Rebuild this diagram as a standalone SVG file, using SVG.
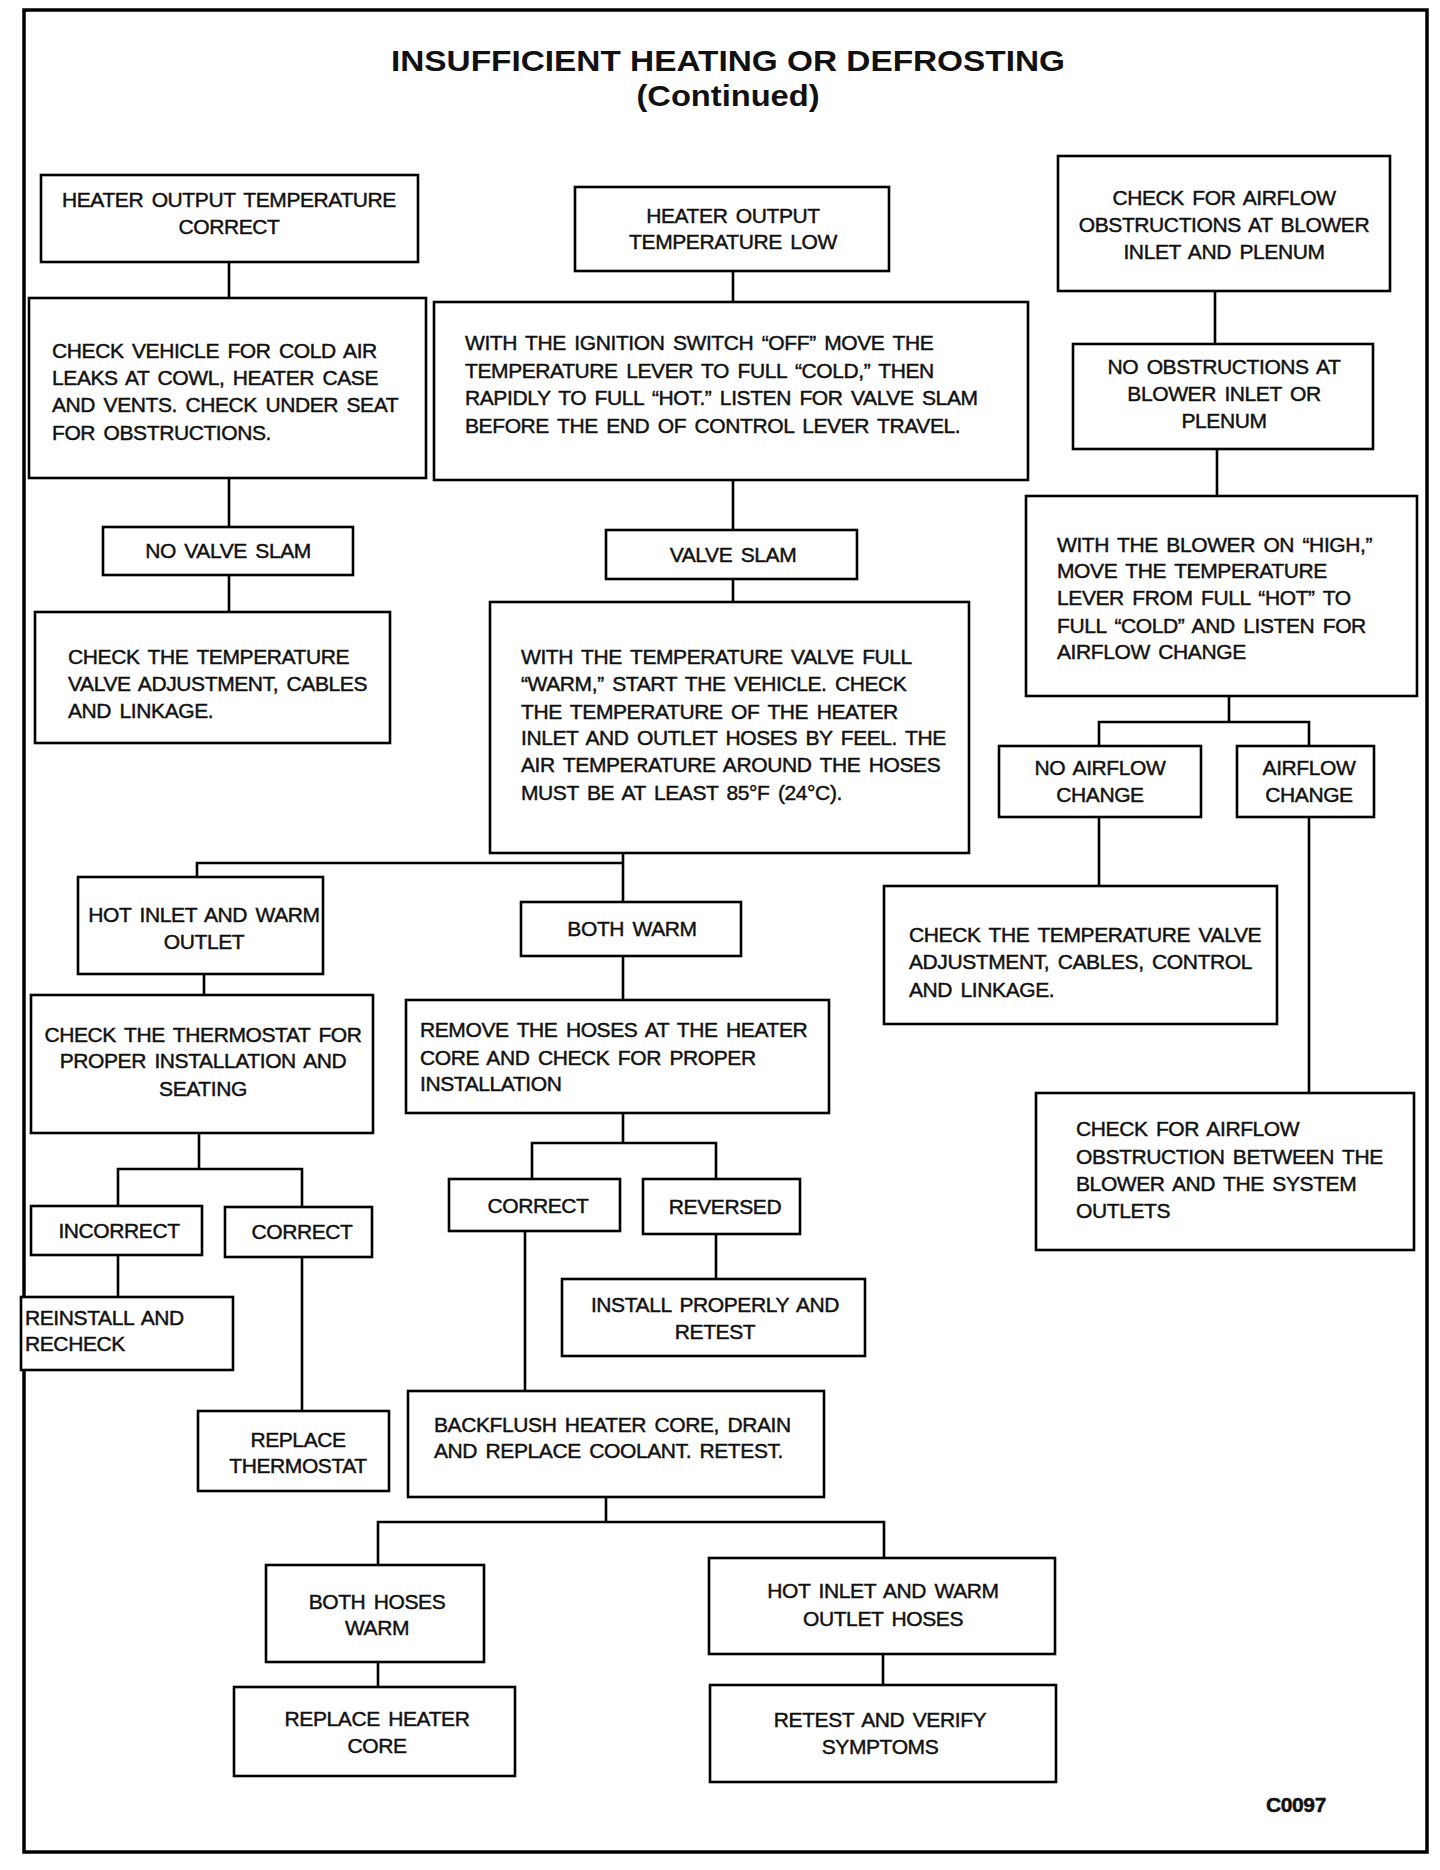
<svg xmlns="http://www.w3.org/2000/svg" width="1440" height="1870" viewBox="0 0 1440 1870">
<style>
.bg{fill:#fff}
.frame{fill:none;stroke:#000;stroke-width:3.5}
.box{fill:#fff;stroke:#000;stroke-width:2.6}
.ln{fill:none;stroke:#000;stroke-width:2.6}
.t{font-family:"Liberation Sans",Arial,sans-serif;font-size:21px;fill:#111;stroke:#111;stroke-width:0.45;letter-spacing:-0.4px;word-spacing:3px}
.c{text-anchor:middle}
.title{font-family:"Liberation Sans",Arial,sans-serif;font-weight:bold;font-size:30px;fill:#111;text-anchor:middle}
</style>
<rect class="bg" x="0" y="0" width="1440" height="1870"/>
<rect class="frame" x="24" y="10" width="1403" height="1842"/>
<g id="title">
<text class="title" x="728" y="71" textLength="674" lengthAdjust="spacingAndGlyphs">INSUFFICIENT HEATING OR DEFROSTING</text>
<text class="title" x="728" y="106" textLength="183" lengthAdjust="spacingAndGlyphs">(Continued)</text>
</g>
<g id="connectors">
<path class="ln" d="M229 262V298M229 478V527M229 575V612"/>
<path class="ln" d="M733 271V302M733 480V530M733 579V602"/>
<path class="ln" d="M1215 291V344M1217 449V496"/>
<path class="ln" d="M1229 696V722M1099 746V722H1309V746"/>
<path class="ln" d="M1099 817V886M1309 817V1093"/>
<path class="ln" d="M623 853V902M197 877V863H623"/>
<path class="ln" d="M204 974V995M623 956V1000"/>
<path class="ln" d="M199 1133V1169M118 1206V1169H302V1207"/>
<path class="ln" d="M118 1255V1297M302 1257V1411"/>
<path class="ln" d="M623 1113V1143M532 1179V1143H716V1179"/>
<path class="ln" d="M716 1234V1279M525 1231V1391"/>
<path class="ln" d="M606 1497V1522M378 1565V1522H884V1558"/>
<path class="ln" d="M378 1662V1687M883 1654V1685"/>
</g>
<g id="n1"><rect class="box" x="41" y="175" width="377" height="87"/>
<text class="t c"><tspan x="229" y="207">HEATER OUTPUT TEMPERATURE</tspan><tspan x="229" y="234">CORRECT</tspan></text></g>
<g id="n2"><rect class="box" x="575" y="187" width="314" height="84"/>
<text class="t c"><tspan x="733" y="223">HEATER OUTPUT</tspan><tspan x="733" y="249">TEMPERATURE LOW</tspan></text></g>
<g id="n3"><rect class="box" x="1058" y="156" width="332" height="135"/>
<text class="t c"><tspan x="1224" y="205">CHECK FOR AIRFLOW</tspan><tspan x="1224" y="232">OBSTRUCTIONS AT BLOWER</tspan><tspan x="1224" y="259">INLET AND PLENUM</tspan></text></g>
<g id="n4"><rect class="box" x="29" y="298" width="397" height="180"/>
<text class="t"><tspan x="52" y="358">CHECK VEHICLE FOR COLD AIR</tspan><tspan x="52" y="385">LEAKS AT COWL, HEATER CASE</tspan><tspan x="52" y="412">AND VENTS. CHECK UNDER SEAT</tspan><tspan x="52" y="440">FOR OBSTRUCTIONS.</tspan></text></g>
<g id="n5"><rect class="box" x="434" y="302" width="594" height="178"/>
<text class="t"><tspan x="465" y="350">WITH THE IGNITION SWITCH “OFF” MOVE THE</tspan><tspan x="465" y="378">TEMPERATURE LEVER TO FULL “COLD,” THEN</tspan><tspan x="465" y="405">RAPIDLY TO FULL “HOT.” LISTEN FOR VALVE SLAM</tspan><tspan x="465" y="433">BEFORE THE END OF CONTROL LEVER TRAVEL.</tspan></text></g>
<g id="n6"><rect class="box" x="1073" y="344" width="300" height="105"/>
<text class="t c"><tspan x="1224" y="374">NO OBSTRUCTIONS AT</tspan><tspan x="1224" y="401">BLOWER INLET OR</tspan><tspan x="1224" y="428">PLENUM</tspan></text></g>
<g id="n7"><rect class="box" x="103" y="527" width="250" height="48"/>
<text class="t c" x="228" y="558">NO VALVE SLAM</text></g>
<g id="n8"><rect class="box" x="606" y="530" width="251" height="49"/>
<text class="t c" x="733" y="562">VALVE SLAM</text></g>
<g id="n9"><rect class="box" x="1026" y="496" width="391" height="200"/>
<text class="t"><tspan x="1057" y="552">WITH THE BLOWER ON “HIGH,”</tspan><tspan x="1057" y="578">MOVE THE TEMPERATURE</tspan><tspan x="1057" y="605">LEVER FROM FULL “HOT” TO</tspan><tspan x="1057" y="633">FULL “COLD” AND LISTEN FOR</tspan><tspan x="1057" y="659">AIRFLOW CHANGE</tspan></text></g>
<g id="n10"><rect class="box" x="35" y="612" width="355" height="131"/>
<text class="t"><tspan x="68" y="664">CHECK THE TEMPERATURE</tspan><tspan x="68" y="691">VALVE ADJUSTMENT, CABLES</tspan><tspan x="68" y="718">AND LINKAGE.</tspan></text></g>
<g id="n11"><rect class="box" x="490" y="602" width="479" height="251"/>
<text class="t"><tspan x="521" y="664">WITH THE TEMPERATURE VALVE FULL</tspan><tspan x="521" y="691">“WARM,” START THE VEHICLE. CHECK</tspan><tspan x="521" y="719">THE TEMPERATURE OF THE HEATER</tspan><tspan x="521" y="745">INLET AND OUTLET HOSES BY FEEL. THE</tspan><tspan x="521" y="772">AIR TEMPERATURE AROUND THE HOSES</tspan><tspan x="521" y="800">MUST BE AT LEAST 85°F (24°C).</tspan></text></g>
<g id="n12"><rect class="box" x="999" y="746" width="202" height="71"/>
<text class="t c"><tspan x="1100" y="775">NO AIRFLOW</tspan><tspan x="1100" y="802">CHANGE</tspan></text></g>
<g id="n13"><rect class="box" x="1237" y="746" width="137" height="71"/>
<text class="t c"><tspan x="1309" y="775">AIRFLOW</tspan><tspan x="1309" y="802">CHANGE</tspan></text></g>
<g id="n14"><rect class="box" x="78" y="877" width="245" height="97"/>
<text class="t c"><tspan x="204" y="922">HOT INLET AND WARM</tspan><tspan x="204" y="949">OUTLET</tspan></text></g>
<g id="n15"><rect class="box" x="521" y="902" width="220" height="54"/>
<text class="t c" x="632" y="936">BOTH WARM</text></g>
<g id="n16"><rect class="box" x="884" y="886" width="393" height="138"/>
<text class="t"><tspan x="909" y="942">CHECK THE TEMPERATURE VALVE</tspan><tspan x="909" y="969">ADJUSTMENT, CABLES, CONTROL</tspan><tspan x="909" y="997">AND LINKAGE.</tspan></text></g>
<g id="n17"><rect class="box" x="31" y="995" width="342" height="138"/>
<text class="t c"><tspan x="203" y="1042">CHECK THE THERMOSTAT FOR</tspan><tspan x="203" y="1068">PROPER INSTALLATION AND</tspan><tspan x="203" y="1096">SEATING</tspan></text></g>
<g id="n18"><rect class="box" x="406" y="1000" width="423" height="113"/>
<text class="t"><tspan x="420" y="1037">REMOVE THE HOSES AT THE HEATER</tspan><tspan x="420" y="1065">CORE AND CHECK FOR PROPER</tspan><tspan x="420" y="1091">INSTALLATION</tspan></text></g>
<g id="n19"><rect class="box" x="1036" y="1093" width="378" height="157"/>
<text class="t"><tspan x="1076" y="1136">CHECK FOR AIRFLOW</tspan><tspan x="1076" y="1164">OBSTRUCTION BETWEEN THE</tspan><tspan x="1076" y="1191">BLOWER AND THE SYSTEM</tspan><tspan x="1076" y="1218">OUTLETS</tspan></text></g>
<g id="n20"><rect class="box" x="31" y="1206" width="171" height="49"/>
<text class="t c" x="119" y="1238">INCORRECT</text></g>
<g id="n21"><rect class="box" x="225" y="1207" width="147" height="50"/>
<text class="t c" x="302" y="1239">CORRECT</text></g>
<g id="n22"><rect class="box" x="449" y="1179" width="171" height="52"/>
<text class="t c" x="538" y="1213">CORRECT</text></g>
<g id="n23"><rect class="box" x="643" y="1179" width="157" height="55"/>
<text class="t c" x="725" y="1214">REVERSED</text></g>
<g id="n24"><rect class="box" x="21" y="1297" width="212" height="73"/>
<text class="t"><tspan x="25" y="1325">REINSTALL AND</tspan><tspan x="25" y="1351">RECHECK</tspan></text></g>
<g id="n25"><rect class="box" x="562" y="1279" width="303" height="77"/>
<text class="t c"><tspan x="715" y="1312">INSTALL PROPERLY AND</tspan><tspan x="715" y="1339">RETEST</tspan></text></g>
<g id="n26"><rect class="box" x="198" y="1411" width="191" height="80"/>
<text class="t c"><tspan x="298" y="1447">REPLACE</tspan><tspan x="298" y="1473">THERMOSTAT</tspan></text></g>
<g id="n27"><rect class="box" x="408" y="1391" width="416" height="106"/>
<text class="t"><tspan x="434" y="1432">BACKFLUSH HEATER CORE, DRAIN</tspan><tspan x="434" y="1458">AND REPLACE COOLANT. RETEST.</tspan></text></g>
<g id="n28"><rect class="box" x="266" y="1565" width="218" height="97"/>
<text class="t c"><tspan x="377" y="1609">BOTH HOSES</tspan><tspan x="377" y="1635">WARM</tspan></text></g>
<g id="n29"><rect class="box" x="709" y="1558" width="346" height="96"/>
<text class="t c"><tspan x="883" y="1598">HOT INLET AND WARM</tspan><tspan x="883" y="1626">OUTLET HOSES</tspan></text></g>
<g id="n30"><rect class="box" x="234" y="1687" width="281" height="89"/>
<text class="t c"><tspan x="377" y="1726">REPLACE HEATER</tspan><tspan x="377" y="1753">CORE</tspan></text></g>
<g id="n31"><rect class="box" x="710" y="1685" width="346" height="97"/>
<text class="t c"><tspan x="880" y="1727">RETEST AND VERIFY</tspan><tspan x="880" y="1754">SYMPTOMS</tspan></text></g>
<text class="t c" x="1296" y="1812" style="font-weight:bold">C0097</text>
</svg>
